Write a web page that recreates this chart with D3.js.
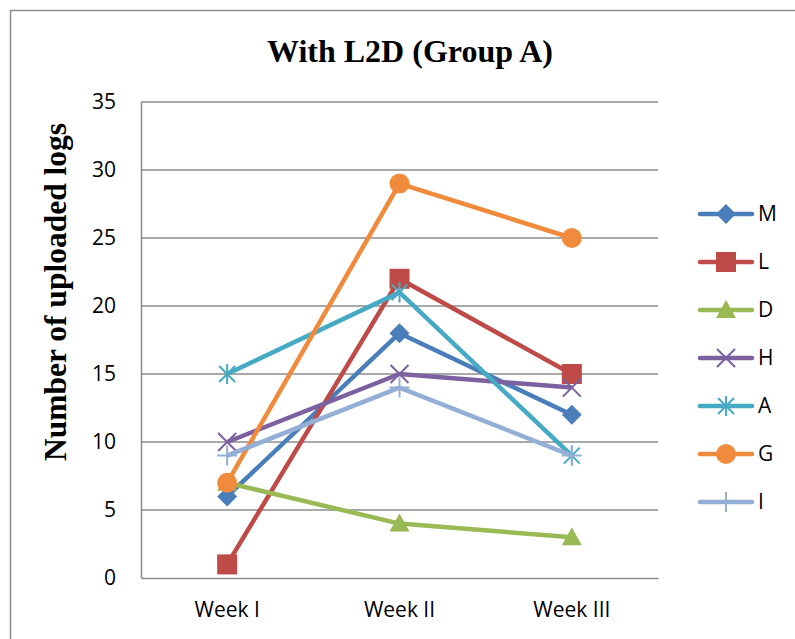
<!DOCTYPE html>
<html><head><meta charset="utf-8">
<script src="https://cdn.jsdelivr.net/npm/d3@7"></script>
<style>body{margin:0;background:#fff}svg{display:block}</style>
</head><body><svg id="c" width="795" height="639"></svg>
<script>
const categories = ["Week I", "Week II", "Week III"];
const seriesNames = ["M", "L", "D", "H", "A", "G", "I"];
const valuesM = [6, 18, 12];
const valuesL = [1, 22, 15];
const valuesD = [7, 4, 3];
const valuesH = [10, 15, 14];
const valuesA = [15, 21, 9];
const valuesG = [7, 29, 25];
const valuesI = [9, 14, 9];
const yTicks = [0, 5, 10, 15, 20, 25, 30, 35];
const chartTitle = "With L2D (Group A)";
const yTitle = "Number of uploaded logs";

const colors = ["#4A7EBB", "#BE4B48", "#98B954", "#7D60A0", "#46AAC5", "#F08A3C", "#94AFD6"];
const markers = ["diamond", "square", "triangle", "x", "asterisk", "circle", "plus"];
const allValues = [valuesM, valuesL, valuesD, valuesH, valuesA, valuesG, valuesI];
const series = seriesNames.map((n, i) => ({name: n, values: allValues[i], color: colors[i], marker: markers[i]}));

const svg = d3.select("#c");
const pLeft = 141, pRight = 658, pTop = 102, pBottom = 578;
const x = d3.scaleBand().domain(categories).range([pLeft, pRight]);
const y = d3.scaleLinear().domain([0, 35]).range([pBottom, pTop]);

const labelFont = "Open Sans";
const labelSize = 21;

// outer border
svg.append("rect").attr("x", 10.5).attr("y", 10.5).attr("width", 800).attr("height", 700)
  .attr("fill", "none").attr("stroke", "#8c8c8c").attr("stroke-width", 1.5);

// title
svg.append("text").attr("x", 410).attr("y", 62).attr("text-anchor", "middle")
  .attr("font-family", "Liberation Serif").attr("font-weight", "bold").attr("font-size", 32)
  .text(chartTitle);

// y axis title
svg.append("text").attr("transform", "translate(66,292) rotate(-90)").attr("text-anchor", "middle")
  .attr("font-family", "Liberation Serif").attr("font-weight", "bold").attr("font-size", 31.5)
  .text(yTitle);

// grid
svg.append("g").selectAll("line").data(yTicks.filter(d => d > 0)).join("line")
  .attr("x1", pLeft).attr("x2", pRight).attr("y1", d => y(d)).attr("y2", d => y(d))
  .attr("stroke", "#8c8c8c").attr("stroke-width", 1.5);

// axes
const yAxis = d3.axisLeft(y).tickValues(yTicks).tickSize(0).tickPadding(25);
const gy = svg.append("g").attr("transform", `translate(${pLeft},0)`).call(yAxis);
gy.select(".domain").attr("stroke", "#8c8c8c").attr("stroke-width", 1.5);
gy.selectAll("text").attr("font-family", labelFont).attr("font-size", labelSize).attr("fill", "#000");

const xAxis = d3.axisBottom(x).tickSize(0).tickPadding(24);
const gx = svg.append("g").attr("transform", `translate(0,${pBottom})`).call(xAxis);
gx.select(".domain").attr("stroke", "#8c8c8c").attr("stroke-width", 1.5);
gx.selectAll("text").attr("font-family", labelFont).attr("font-size", labelSize).attr("fill", "#000");

function drawMarker(g, type, color) {
  switch (type) {
    case "diamond":
      g.append("path").attr("d", "M0,-10L10,0L0,10L-10,0Z").attr("fill", color); break;
    case "square":
      g.append("rect").attr("x", -10).attr("y", -10).attr("width", 20).attr("height", 20).attr("fill", color); break;
    case "triangle":
      g.append("path").attr("d", "M0,-10L10,8L-10,8Z").attr("fill", color); break;
    case "circle":
      g.append("circle").attr("r", 10).attr("fill", color); break;
    case "x":
      g.append("path").attr("d", "M-9,-9L9,9M-9,9L9,-9").attr("stroke", color).attr("stroke-width", 2); break;
    case "asterisk":
      g.append("path").attr("d", "M-8,-8L8,8M-8,8L8,-8M0,-10L0,10").attr("stroke", color).attr("stroke-width", 2); break;
    case "plus":
      g.append("path").attr("d", "M-10,0L10,0M0,-10L0,10").attr("stroke", color).attr("stroke-width", 2); break;
  }
}

const cx = c => x(c) + x.bandwidth() / 2;
const line = d3.line().x((d, i) => cx(categories[i])).y(d => y(d));

series.forEach(s => {
  const g = svg.append("g");
  g.append("path").attr("d", line(s.values)).attr("fill", "none")
    .attr("stroke", s.color).attr("stroke-width", 4.5).attr("stroke-linejoin", "round");
  s.values.forEach((v, i) => {
    const mg = g.append("g").attr("transform", `translate(${cx(categories[i])},${y(v)})`);
    drawMarker(mg, s.marker, s.color);
  });
});

// legend
const leg = svg.append("g");
series.forEach((s, i) => {
  const ly = 214 + i * 48;
  const g = leg.append("g").attr("transform", `translate(0,${ly})`);
  g.append("line").attr("x1", 700).attr("x2", 752).attr("stroke", s.color)
    .attr("stroke-width", 4.5).attr("stroke-linecap", "round");
  const mg = g.append("g").attr("transform", "translate(726,0)");
  drawMarker(mg, s.marker, s.color);
  g.append("text").attr("x", 758).attr("y", 0).attr("dy", "0.35em")
    .attr("font-family", labelFont).attr("font-size", labelSize).text(s.name);
});
</script></body></html>
